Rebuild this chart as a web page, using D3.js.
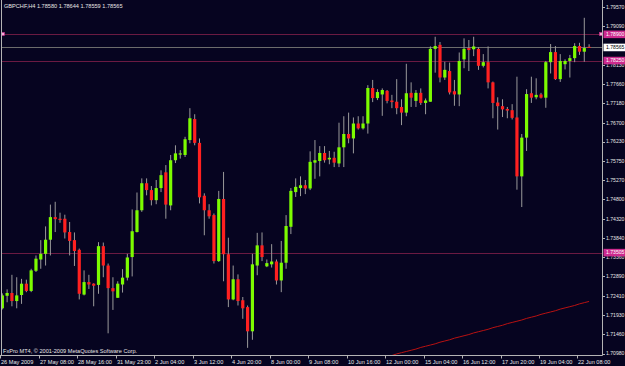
<!DOCTYPE html>
<html>
<head>
<meta charset="utf-8">
<script src="https://cdn.jsdelivr.net/npm/d3@7"></script>
<style>
  body { margin: 0; background: #060420; }
  svg { display: block; }
  text { font-family: "Liberation Sans", Arial, sans-serif; font-size: 5.6px; fill: #e6e6e6; }
  text.axis { font-size: 5.1px; }
</style>
</head>
<body>
<svg id="chart" width="625" height="366"></svg>
<script>
const title = "GBPCHF,H4  1.78580 1.78644 1.78559 1.78565";
const copyright = "FxPro MT4, \u00a9 2001-2009 MetaQuotes Software Corp.";

// H4 bars, 26 May 2009 00:00 .. 22 Jun 2009 16:00
const opens = [1.7210,1.7241,1.7248,1.7228,1.7243,1.7271,1.7253,1.7303,1.7331,1.7345,
  1.7380,1.7436,1.7432,1.7432,1.7399,1.7379,1.7355,1.7244,1.7275,1.7271,
  1.7268,1.7364,1.7316,1.7260,1.7236,1.7269,1.7286,1.7337,1.7399,1.7453,
  1.7520,1.7503,1.7478,1.7508,1.7547,1.7465,1.7577,1.7591,1.7590,1.7627,
  1.7679,1.7620,1.7489,1.7453,1.7441,1.7327,1.7481,1.7344,1.7232,1.7282,
  1.7230,1.7213,1.7153,1.7316,1.7366,1.7314,1.7319,1.7326,1.7279,1.7323,
  1.7412,1.7498,1.7508,1.7515,1.7507,1.7571,1.7575,1.7595,1.7579,1.7583,
  1.7569,1.7609,1.7642,1.7631,1.7668,1.7656,1.7668,1.7756,1.7731,1.7740,
  1.7749,1.7725,1.7722,1.7709,1.7695,1.7744,1.7724,1.7744,1.7719,1.7722,
  1.7853,1.7863,1.7782,1.7798,1.7748,1.7740,1.7827,1.7855,1.7852,1.7853,
  1.7811,1.7820,1.7770,1.7720,1.7711,1.7704,1.7701,1.7683,1.7537,1.7633,
  1.7743,1.7733,1.7740,1.7732,1.7820,1.7845,1.7778,1.7815,1.7823,1.7830,
  1.7860,1.7846,1.78580];
const highs = [1.7247,1.7257,1.7293,1.7287,1.7283,1.7281,1.7308,1.7341,1.7379,1.7413,
  1.7467,1.7474,1.7447,1.7442,1.7424,1.7398,1.7358,1.7304,1.7293,1.7272,
  1.7374,1.7373,1.7321,1.7287,1.7277,1.7307,1.7345,1.7455,1.7497,1.7532,
  1.7532,1.7513,1.7528,1.7552,1.7565,1.7590,1.7614,1.7602,1.7635,1.7706,
  1.7691,1.7631,1.7495,1.7468,1.7445,1.7501,1.7548,1.7385,1.7316,1.7294,
  1.7238,1.7217,1.7345,1.7397,1.7398,1.7331,1.7369,1.7331,1.7377,1.7441,
  1.7508,1.7532,1.7537,1.7528,1.7599,1.7627,1.7612,1.7612,1.7600,1.7598,
  1.7670,1.7686,1.7695,1.7683,1.7686,1.7686,1.7763,1.7776,1.7753,1.7755,
  1.7751,1.7739,1.7778,1.7728,1.7816,1.7770,1.7751,1.7755,1.7730,1.7859,
  1.7883,1.7870,1.7821,1.7819,1.7776,1.7844,1.7879,1.7875,1.7883,1.7857,
  1.7840,1.7859,1.7772,1.7733,1.7728,1.7709,1.7716,1.7784,1.7642,1.7753,
  1.7784,1.7780,1.7744,1.7823,1.7865,1.7860,1.7840,1.7827,1.7838,1.7867,
  1.7868,1.7930,1.78644];
const lows = [1.7207,1.7225,1.7215,1.7210,1.7221,1.7250,1.7250,1.7300,1.7308,1.7316,
  1.7341,1.7399,1.7422,1.7383,1.7341,1.7315,1.7232,1.7242,1.7258,1.7215,
  1.7246,1.7287,1.7148,1.7206,1.7236,1.7249,1.7279,1.7289,1.7398,1.7449,
  1.7490,1.7465,1.7468,1.7498,1.7432,1.7453,1.7570,1.7581,1.7585,1.7619,
  1.7614,1.7470,1.7391,1.7432,1.7321,1.7325,1.7277,1.7213,1.7230,1.7217,
  1.7184,1.7112,1.7132,1.7292,1.7327,1.7312,1.7311,1.7269,1.7250,1.7308,
  1.7394,1.7486,1.7488,1.7493,1.7503,1.7531,1.7537,1.7571,1.7567,1.7560,
  1.7560,1.7560,1.7619,1.7594,1.7653,1.7653,1.7643,1.7721,1.7726,1.7687,
  1.7718,1.7706,1.7691,1.7664,1.7686,1.7709,1.7709,1.7714,1.7691,1.7722,
  1.7794,1.7770,1.7776,1.7740,1.7712,1.7711,1.7805,1.7798,1.7835,1.7801,
  1.7807,1.7755,1.7681,1.7653,1.7684,1.7681,1.7678,1.7504,1.7461,1.7600,
  1.7719,1.7728,1.7730,1.7707,1.7792,1.7776,1.7771,1.7802,1.7782,1.7820,
  1.7838,1.7821,1.78559];
const closes = [1.7242,1.7248,1.7228,1.7242,1.7271,1.7253,1.7304,1.7333,1.7345,1.7380,
  1.7436,1.7431,1.7429,1.7398,1.7377,1.7352,1.7246,1.7275,1.7269,1.7266,
  1.7364,1.7316,1.7260,1.7252,1.7271,1.7286,1.7336,1.7401,1.7453,1.7520,
  1.7503,1.7478,1.7508,1.7540,1.7467,1.7577,1.7594,1.7594,1.7629,1.7681,
  1.7620,1.7485,1.7453,1.7438,1.7327,1.7481,1.7344,1.7232,1.7282,1.7228,
  1.7210,1.7153,1.7319,1.7366,1.7337,1.7322,1.7326,1.7279,1.7323,1.7414,
  1.7501,1.7511,1.7515,1.7507,1.7573,1.7577,1.7595,1.7577,1.7583,1.7571,
  1.7609,1.7642,1.7631,1.7668,1.7656,1.7668,1.7756,1.7731,1.7746,1.7751,
  1.7724,1.7721,1.7706,1.7695,1.7743,1.7732,1.7744,1.7719,1.7725,1.7853,
  1.7860,1.7782,1.7801,1.7745,1.7740,1.7823,1.7853,1.7850,1.7859,1.7811,
  1.7820,1.7770,1.7719,1.7711,1.7703,1.7700,1.7682,1.7537,1.7633,1.7741,
  1.7732,1.7739,1.7732,1.7820,1.7845,1.7778,1.7823,1.7823,1.7830,1.7860,
  1.7846,1.7855,1.78565];

// moving average, visible from bar 80 on
const maFirstBar = 80;
const maValues = [1.7090,1.7093,1.7097,1.7100,1.7103,1.7106,1.7109,1.7113,1.7116,1.7119,
  1.7122,1.7126,1.7129,1.7132,1.7136,1.7139,1.7142,1.7145,1.7149,1.7152,
  1.7155,1.7158,1.7162,1.7165,1.7168,1.7172,1.7175,1.7178,1.7181,1.7185,
  1.7188,1.7191,1.7195,1.7198,1.7201,1.7204,1.7208,1.7211,1.7214,1.7217,
  1.7221,1.7224,1.7227];

const timeLabels = ["26 May 2009", "27 May 08:00", "28 May 16:00", "31 May 23:00", "2 Jun 04:00",
  "3 Jun 12:00", "4 Jun 20:00", "8 Jun 00:00", "9 Jun 08:00", "10 Jun 16:00", "12 Jun 00:00",
  "15 Jun 04:00", "16 Jun 12:00", "17 Jun 20:00", "19 Jun 04:00", "22 Jun 08:00"];
const barsPerLabel = 8;

// 1.78610 sits under the bid label, not shown
const priceTicks = ["1.79570", "1.79090", "1.78130", "1.77660", "1.77180", "1.76700", "1.76230",
  "1.75750", "1.75270", "1.74800", "1.74320", "1.73840", "1.73360", "1.72890", "1.72410",
  "1.71930", "1.71460", "1.70980"];

const levels = [1.78890, 1.78240, 1.73480];
const levelLabels = ["1.78900", "1.78250", "1.73505"];
const bid = 1.78565;

class CandleChart {
    #colors = { bg: "#060420", frame: "#b4b4b4", bull: "#7cfc00", bear: "#ff2020",
                wick: "#9a9a9a", level: "#6a1a42", tag: "#cc2a8e", bid: "#6c6c6c", ma: "#b81212" }
    #plot = { left: 1.5, top: 0.5, right: 602.5, bottom: 355.5 }

    constructor(svgid){
        this.svg = d3.select(svgid);
        this.n = opens.length;
        this.x = d3.scaleLinear().domain([0, this.n - 1]).range([2.3, 589.1]);
        this.y = d3.scaleLinear().domain([1.70980, 1.79570]).range([353.5, 6.9]);
    }

    draw(){
        const p = this.#plot, c = this.#colors;
        this.svg.append("rect").attr("width", 625).attr("height", 366).attr("fill", c.bg);

        this.svg.append("clipPath").attr("id", "plotclip")
            .append("rect").attr("x", p.left).attr("y", p.top)
            .attr("width", p.right - p.left).attr("height", p.bottom - p.top);
        const layer = this.svg.append("g").attr("clip-path", "url(#plotclip)");

        // horizontal levels
        layer.selectAll(".level").data(levels).join("line")
            .attr("class", "level")
            .attr("x1", p.left).attr("x2", p.right)
            .attr("y1", d => Math.round(this.y(d)) + 0.5).attr("y2", d => Math.round(this.y(d)) + 0.5)
            .attr("stroke", c.level).attr("stroke-width", 1);
        layer.append("line")
            .attr("x1", p.left).attr("x2", p.right)
            .attr("y1", Math.round(this.y(bid)) + 0.5).attr("y2", Math.round(this.y(bid)) + 0.5)
            .attr("stroke", c.bid).attr("stroke-width", 1);

        const bars = d3.range(this.n);

        layer.selectAll(".wick").data(bars).join("line")
            .attr("class", "wick")
            .attr("x1", i => this.x(i)).attr("x2", i => this.x(i))
            .attr("y1", i => this.y(highs[i])).attr("y2", i => this.y(lows[i]))
            .attr("stroke", c.wick).attr("stroke-width", 1);

        layer.selectAll(".body").data(bars).join("rect")
            .attr("class", "body")
            .attr("x", i => this.x(i) - 1.6)
            .attr("width", 3.2)
            .attr("y", i => this.y(Math.max(opens[i], closes[i])))
            .attr("height", i => Math.max(1, Math.abs(this.y(opens[i]) - this.y(closes[i]))))
            .attr("fill", i => closes[i] >= opens[i] ? c.bull : c.bear);

        const ma = d3.line()
            .x((d, k) => this.x(maFirstBar + k))
            .y(d => this.y(d));
        layer.append("path").datum(maValues)
            .attr("d", ma).attr("fill", "none")
            .attr("stroke", c.ma).attr("stroke-width", 1);

        // selected level handles
        [p.left, p.right - 3].forEach(hx => {
            this.svg.append("rect")
                .attr("x", hx).attr("y", Math.round(this.y(levels[0])) - 1.5)
                .attr("width", 3).attr("height", 3)
                .attr("fill", "#f4a6d8").attr("stroke", c.tag).attr("stroke-width", 0.6);
        });

        // frame
        this.svg.append("line").attr("x1", p.left).attr("x2", p.left).attr("y1", 0).attr("y2", p.bottom)
            .attr("stroke", c.frame);
        this.svg.append("line").attr("x1", p.right).attr("x2", p.right).attr("y1", 0).attr("y2", p.bottom)
            .attr("stroke", c.frame);
        this.svg.append("line").attr("x1", 0).attr("x2", p.right).attr("y1", p.bottom).attr("y2", p.bottom)
            .attr("stroke", c.frame);

        // price axis
        const pa = this.svg.append("g");
        pa.selectAll("line").data(priceTicks).join("line")
            .attr("x1", p.right).attr("x2", p.right + 2.5)
            .attr("y1", d => Math.round(this.y(+d)) + 0.5).attr("y2", d => Math.round(this.y(+d)) + 0.5)
            .attr("stroke", c.frame);
        pa.selectAll("text").data(priceTicks).join("text")
            .attr("class", "axis")
            .attr("x", p.right + 3.5).attr("y", d => this.y(+d) + 1.8)
            .text(d => d);

        // tagged levels on the axis
        const tags = levels.map((v, k) => ({ v: v, label: levelLabels[k], fill: c.tag, ink: "#ffffff" }));
        tags.push({ v: bid, label: "1.78565", fill: "#ffffff", ink: "#000000" });
        const tg = this.svg.selectAll(".tag").data(tags).join("g").attr("class", "tag");
        tg.append("rect")
            .attr("x", p.right + 1).attr("y", d => this.y(d.v) - 3.8)
            .attr("width", 22).attr("height", 7.6).attr("fill", d => d.fill);
        tg.append("text")
            .attr("class", "axis")
            .attr("x", p.right + 3.5).attr("y", d => this.y(d.v) + 1.8)
            .style("fill", d => d.ink).text(d => d.label);

        // time axis
        const ta = this.svg.append("g");
        const tickBars = timeLabels.map((t, k) => k * barsPerLabel);
        ta.selectAll("line").data(tickBars).join("line")
            .attr("x1", i => Math.round(this.x(i)) - 1.5).attr("x2", i => Math.round(this.x(i)) - 1.5)
            .attr("y1", p.bottom).attr("y2", p.bottom + 3)
            .attr("stroke", c.frame);
        ta.selectAll("text").data(timeLabels).join("text")
            .attr("x", (t, k) => Math.round(this.x(tickBars[k])) - 1)
            .attr("y", 363.5)
            .text(t => t);

        this.svg.append("text").attr("x", 4).attr("y", 8).text(title);
        this.svg.append("text").attr("x", 3).attr("y", 353).text(copyright);
    }
}

const chart = new CandleChart("#chart");
chart.draw();
</script>
</body>
</html>
